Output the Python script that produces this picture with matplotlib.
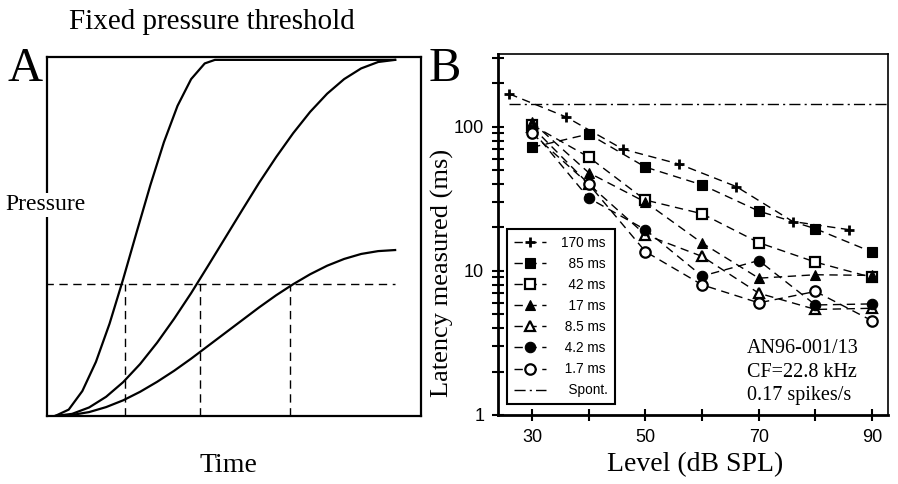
import numpy as np
import matplotlib
matplotlib.use('Agg')
import matplotlib.pyplot as plt
from matplotlib.ticker import LogLocator, NullFormatter, FixedLocator

# ---- panel A: schematic pressure ramps (time and pressure in arbitrary units)
t_fast = [0, .04, .08, .12, .16, .20, .24, .28, .32, .36, .40, .44, .47, 1.0]
p_fast = [0, .018, .070, .152, .259, .384, .517, .648, .769, .871, .946, .990, 1.0, 1.0]
t_slow = [0, .05, .1, .15, .2, .25, .3, .35, .4, .45, .5, .55, .6, .65, .7,
          .75, .8, .85, .9, .95, 1.0]
p_mid = [0, .006, .024, .054, .095, .146, .206, .273, .345, .422, .5, .578,
         .655, .727, .794, .854, .905, .946, .976, .994, 1.0]
p_low = [0, .003, .011, .025, .044, .068, .096, .127, .161, .197, .233, .269,
         .305, .339, .370, .398, .422, .441, .455, .463, .466]
threshold = 0.371
t_cross = [0.206, 0.426, 0.691]

# ---- panel B: latency vs level
levels = [30, 40, 50, 60, 70, 80, 90]
levels_170 = [26, 36, 46, 56, 66, 76, 86]
lat_170 = [169, 117, 70, 55, 38.5, 22, 19.3]
lat_85 = [72, 89, 52.5, 39.5, 26, 19.6, 13.5]
lat_42 = [103, 61.6, 31, 24.9, 15.7, 11.5, 9.0]
lat_17 = [108, 48, 30, 15.6, 8.9, 9.4, 9.3]
lat_8_5 = [100, 40, 17.8, 12.6, 7.0, 5.4, 5.5]
lat_4_2 = [95, 32, 19.3, 9.2, 11.8, 5.8, 5.9]
lat_1_7 = [90, 40, 13.6, 8.0, 6.0, 7.2, 4.5]
spont = 145
spont_range = [26, 93]

serif = 'Liberation Serif'
sans = 'Liberation Sans'

fig = plt.figure(figsize=(8.98, 4.84), dpi=100)

# panel A
axA = fig.add_axes([0.0523, 0.1405, 0.4165, 0.7417])
axA.plot(t_fast, p_fast, color='black', lw=1.6)
axA.plot(t_slow, p_mid, color='black', lw=1.6)
axA.plot(t_slow, p_low, color='black', lw=1.6)
dash = (0, (6, 4))
axA.plot([-0.03, 1.0], [threshold, threshold], color='black', lw=1.0, linestyle=dash)
for tc in t_cross:
    axA.plot([tc, tc], [0, threshold], color='black', lw=1.0, linestyle=dash)
axA.set_xlim(-0.024, 1.076)
axA.set_ylim(0, 1.008)
axA.set_xticks([])
axA.set_yticks([])
for s in axA.spines.values():
    s.set_linewidth(1.6)

fig.text(212 / 898, 1 - 22 / 484, 'Fixed pressure threshold', family=serif,
         fontsize=21, ha='center', va='center')
fig.text(7 / 898, 1 - 69 / 484, 'A', family=serif, fontsize=35, ha='left', va='center')
fig.text(429 / 898, 1 - 69 / 484, 'B', family=serif, fontsize=35, ha='left', va='center')
fig.text(45 / 898, 1 - 205 / 484, 'Pressure', family=serif, fontsize=17,
         ha='center', va='center',
         bbox=dict(facecolor='white', edgecolor='none', pad=1))
fig.text(228 / 898, 1 - 466 / 484, 'Time', family=serif, fontsize=20,
         ha='center', va='center')

# panel B
axB = fig.add_axes([0.5546, 0.1426, 0.4343, 0.7459])
lw = 1.0
ms = 7.5
series = [
    (levels_170, lat_170, '+', 'black', '170 ms'),
    (levels, lat_85, 's', 'black', '  85 ms'),
    (levels, lat_42, 's', 'white', '  42 ms'),
    (levels, lat_17, '^', 'black', '  17 ms'),
    (levels, lat_8_5, '^', 'white', ' 8.5 ms'),
    (levels, lat_4_2, 'o', 'black', ' 4.2 ms'),
    (levels, lat_1_7, 'o', 'white', ' 1.7 ms'),
]
for x, y, m, fc, lab in series:
    if m == '+':
        mew = 2.0
    elif fc == 'white':
        mew = 1.6
    else:
        mew = 0.8
    axB.plot(x, y, color='black', lw=lw, linestyle=dash, marker=m,
             markersize=ms, markerfacecolor=fc, markeredgecolor='black',
             markeredgewidth=mew, label=lab)
axB.plot(spont_range, [spont, spont], color='black', lw=lw,
         linestyle=(0, (8, 3, 1.5, 3)), label='  Spont.')

axB.set_yscale('log')
axB.set_xlim(24, 92.8)
axB.set_ylim(1, 320)
axB.xaxis.set_major_locator(FixedLocator([30, 40, 50, 60, 70, 80, 90]))
axB.set_xticklabels(['30', '', '50', '', '70', '', '90'])
axB.yaxis.set_major_locator(FixedLocator([1, 10, 100]))
axB.yaxis.set_minor_locator(LogLocator(base=10, subs=np.arange(2, 10)))
axB.yaxis.set_minor_formatter(NullFormatter())
axB.set_yticklabels(['1', '10', '100'])
axB.tick_params(which='both', direction='inout', length=8, width=1.5,
                labelsize=13, pad=6)
axB.tick_params(which='both', right=False, top=False)
for lab in axB.get_xticklabels() + axB.get_yticklabels():
    lab.set_family(sans)
for side, s in axB.spines.items():
    s.set_linewidth(2.0 if side in ('left', 'bottom') else 1.2)

axB.set_ylabel('Latency measured (ms)', family=serif, fontsize=19)
axB.yaxis.set_label_coords(-0.112, 0.393)
fig.text(695 / 898, 1 - 465 / 484, 'Level (dB SPL)', family=serif, fontsize=20,
         ha='center', va='center')

leg = axB.legend(loc='lower left', bbox_to_anchor=(0.023, 0.030), borderaxespad=0,
                 prop={'family': sans, 'size': 9.8}, handlelength=2.4,
                 labelspacing=0.52, fancybox=False, framealpha=1,
                 edgecolor='black', borderpad=0.5, handletextpad=1.1)
leg.get_frame().set_linewidth(1.5)

axB.text(0.638, 0.21, 'AN96-001/13\nCF=22.8 kHz\n0.17 spikes/s',
         transform=axB.transAxes, family=serif, fontsize=14.5,
         ha='left', va='top', linespacing=1.32)

fig.savefig('out.png', dpi=100)
